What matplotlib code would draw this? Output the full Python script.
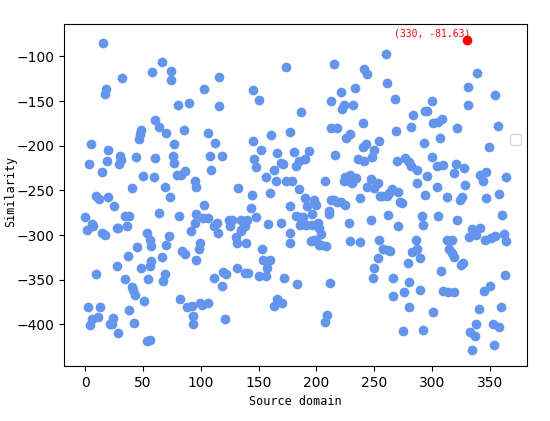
import matplotlib
matplotlib.use("Agg")
import matplotlib.pyplot as plt

# source-domain index and similarity score
xs = [15, 18, 17, 5, 3, 20, 19, 14, 9, 12, 20, 0, 1, 6, 7, 14, 17, 9, 2, 13, 6, 11, 4, 21,
      32, 58, 30, 31, 29, 44, 47, 46, 48, 60, 60, 50, 40, 25, 34, 38, 36, 27, 28, 53, 56, 45, 37, 57, 56, 48,
      27, 54, 34, 40, 41, 43, 51, 38, 24, 23, 42, 28, 53, 56,
      66, 74, 74, 80, 90, 64, 70, 85, 77, 76, 77, 79, 83, 86, 59, 95, 96, 69, 73, 64, 81, 95, 91, 72, 57, 70,
      66, 84, 86, 98, 96, 69, 67, 82, 88, 92, 93, 93, 99,
      116, 103, 116, 106, 112, 108, 118, 109, 132, 103, 96, 102, 106, 111, 114, 115, 125, 124, 127, 130, 131,
      135, 135, 137, 99, 111, 119, 122, 118, 131, 138, 101, 106, 121,
      174, 145, 150, 161, 177, 145, 152, 166, 146, 148, 163, 169, 171, 174, 156, 165, 160, 144, 177, 143, 148,
      140, 138, 135, 158, 169, 139, 177, 153, 154, 160, 157, 141, 150, 156, 172, 163, 166, 170,
      215, 187, 213, 213, 181, 194, 190, 185, 182, 216, 179, 207, 185, 190, 192, 198, 200, 215, 211, 211, 182,
      186, 188, 196, 186, 191, 196, 201, 202, 204, 177, 195, 198, 200, 202, 204, 208, 183, 212, 209, 207,
      241, 244, 233, 221, 224, 222, 232, 240, 218, 229, 226, 254, 250, 248, 240, 243, 236, 241, 253, 247, 225,
      229, 234, 228, 224, 231, 244, 250, 255, 238, 213, 218, 221, 225, 228, 247, 254, 229, 238, 253, 250, 249,
      260, 261, 268, 294, 284, 282, 269, 293, 270, 277, 280, 282, 287, 287, 257, 263, 265, 271, 261, 272, 274,
      294, 262, 291, 271, 286, 283, 287, 290, 258, 262, 264, 279, 266, 290, 280, 276, 266, 280, 275, 292,
      331, 331, 300, 296, 301, 305, 309, 322, 307, 300, 304, 310, 321, 319, 328, 296, 329, 304, 313, 326, 324,
      292, 305, 322, 332, 313, 317, 315, 317, 319, 325, 327, 308, 310, 314, 319, 301, 333,
      339, 355, 357, 349, 342, 347, 344, 364, 358, 347, 361, 342, 335, 338, 346, 351, 355, 362, 364, 363, 345,
      350, 341, 360, 338, 337, 353, 358, 354, 335]
ys = [-85, -136, -142, -198, -221, -205, -217, -229, -256, -260, -257, -280, -294, -288, -290, -298, -300,
      -344, -381, -380, -394, -392, -401, -400,
      -124, -117, -212, -216, -221, -213, -187, -193, -182, -171, -214, -234, -247, -268, -279, -279, -290,
      -292, -292, -298, -305, -313, -323, -329, -335, -337, -335, -349, -349, -358, -361, -367, -374, -384,
      -393, -400, -398, -410, -418, -417,
      -106, -116, -127, -154, -152, -179, -186, -182, -198, -212, -219, -233, -233, -228, -235, -239, -246,
      -246, -257, -275, -279, -287, -295, -301, -312, -311, -324, -318, -321, -316, -328, -344, -351, -372,
      -381, -379, -391, -400, -376,
      -123, -136, -156, -186, -197, -211, -211, -227, -247, -266, -276, -281, -281, -290, -287, -298, -290,
      -283, -283, -302, -309, -283, -294, -289, -309, -348, -341, -344, -357, -337, -342, -378, -376, -394,
      -112, -138, -149, -188, -185, -195, -205, -208, -215, -224, -227, -219, -220, -240, -235, -239, -253,
      -255, -267, -270, -280, -283, -290, -296, -288, -286, -309, -309, -316, -328, -328, -337, -343, -346,
      -346, -348, -379, -372, -376,
      -109, -162, -150, -180, -207, -206, -215, -217, -223, -210, -240, -239, -249, -259, -267, -261, -266,
      -261, -273, -276, -279, -280, -280, -276, -289, -289, -289, -286, -292, -299, -298, -307, -306, -305,
      -311, -311, -312, -355, -354, -389, -397,
      -114, -120, -135, -140, -154, -159, -154, -175, -180, -187, -191, -195, -205, -213, -201, -198, -215,
      -217, -242, -237, -235, -233, -236, -240, -240, -242, -246, -247, -256, -258, -261, -263, -263, -266,
      -286, -283, -306, -307, -308, -326, -337, -348,
      -97, -130, -148, -161, -166, -179, -184, -197, -217, -214, -218, -223, -227, -242, -256, -253, -248,
      -252, -256, -263, -264, -255, -278, -279, -290, -305, -319, -316, -326, -316, -317, -318, -331, -348,
      -361, -352, -364, -368, -380, -407, -406,
      -134, -154, -150, -161, -175, -174, -170, -180, -191, -213, -223, -222, -220, -231, -225, -234, -244,
      -246, -257, -257, -261, -289, -279, -283, -302, -305, -305, -316, -320, -324, -333, -331, -340, -363,
      -364, -364, -386, -409,
      -119, -143, -178, -201, -233, -229, -240, -235, -254, -259, -278, -292, -293, -300, -306, -303, -301,
      -299, -307, -345, -363, -357, -383, -381, -400, -413, -399, -403, -423, -429]

best_x = 330
best_y = -81.63

fig = plt.figure(figsize=(5.5, 4.21), dpi=100)
ax = fig.add_axes([0.117, 0.131, 0.841, 0.811])

ax.scatter(xs, ys, color="cornflowerblue")
ax.scatter([best_x], [best_y], color="red")
ax.annotate("(%d, %.2f)" % (best_x, best_y), xy=(best_x, best_y), xytext=(3, 1),
            textcoords="offset points", color="red", ha="right", va="bottom",
            family="DejaVu Sans Mono", fontsize=7)

ax.set_xlabel("Source domain", family="DejaVu Sans Mono", fontsize=8.5)
ax.set_ylabel("Similarity", family="DejaVu Sans Mono", fontsize=8.5)
ax.yaxis.set_label_coords(-0.102, 0.51)
ax.legend(handles=[], loc="center", bbox_to_anchor=(0.976, 0.664))

fig.savefig("out.png", dpi=100)
